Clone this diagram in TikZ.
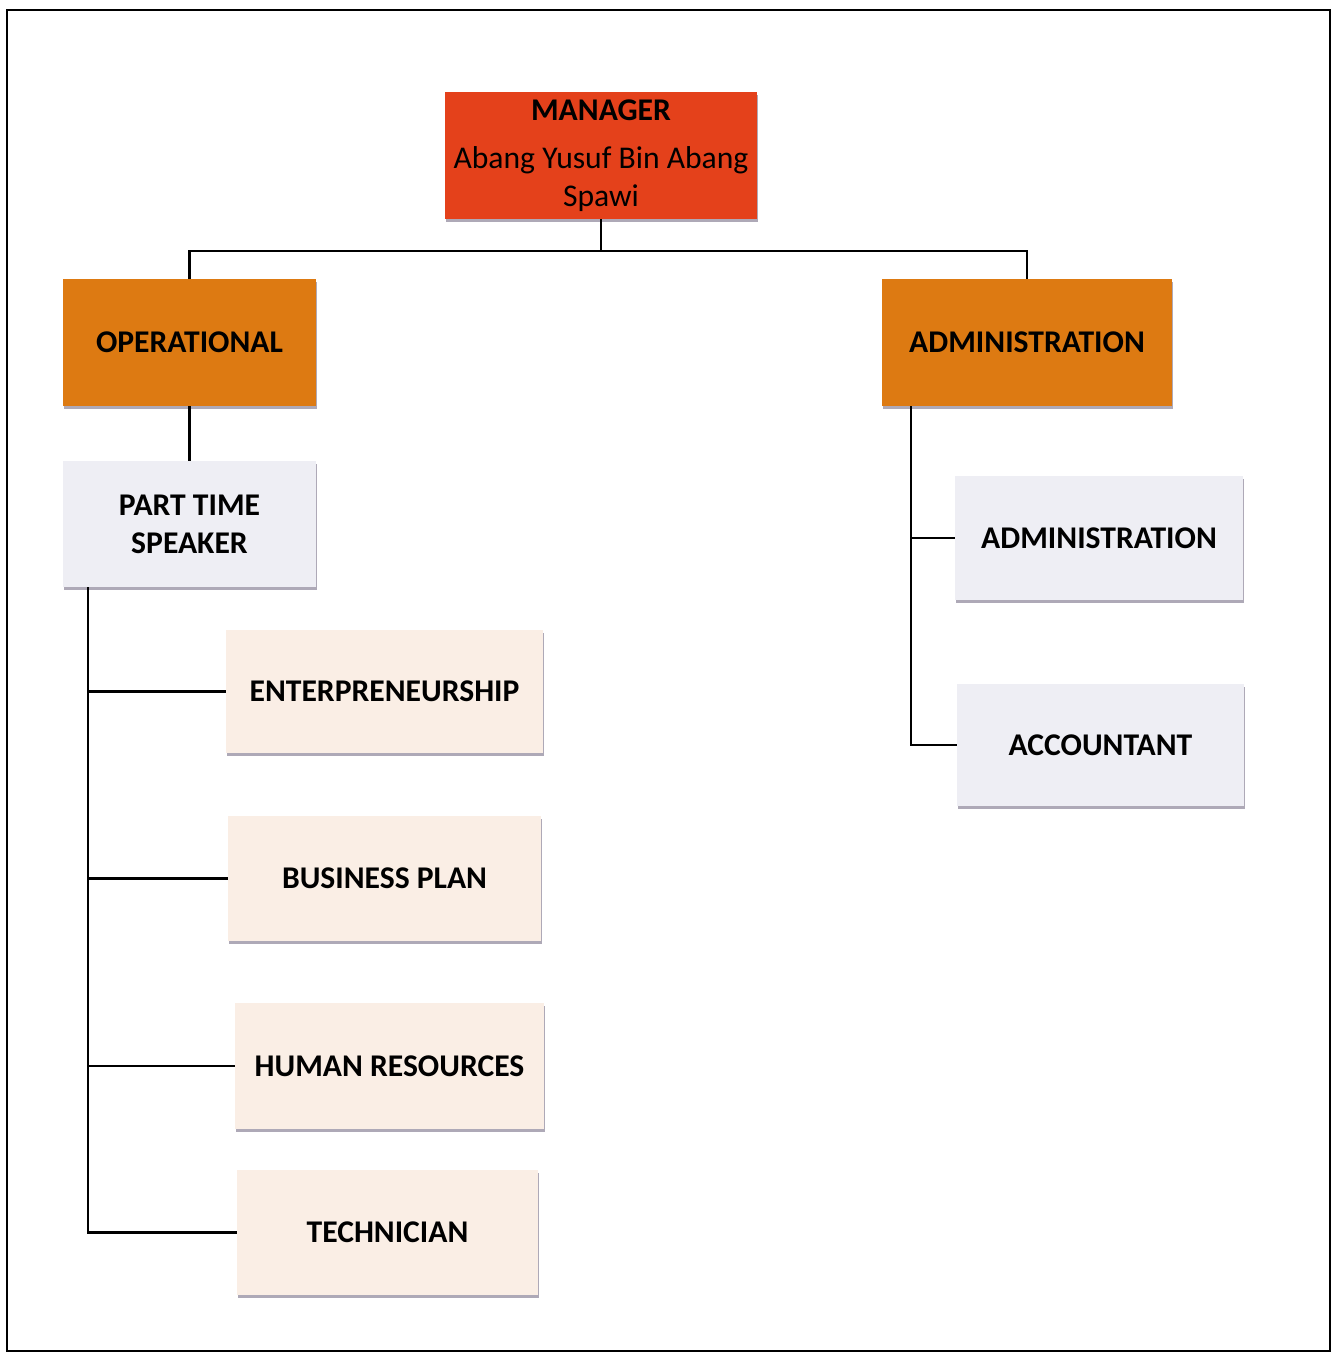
\documentclass[tikz,border=0pt]{standalone}
\usepackage{fontspec}
\setmainfont{Carlito}
\usetikzlibrary{shadows}
\definecolor{managerred}{HTML}{E4411B}
\definecolor{unitorange}{HTML}{DD7A12}
\definecolor{lavenderbox}{HTML}{EEEEF4}
\definecolor{peachbox}{HTML}{FAEEE5}
\definecolor{shadowgray}{HTML}{8C8499}

\begin{document}
\begin{tikzpicture}[x=0.02cm, y=-0.02cm,
	unitbox/.style={rectangle, inner sep=0pt, align=center, font=\bfseries\fontsize{18}{21.5}\selectfont,
		drop shadow={shadow xshift=0.4pt, shadow yshift=-1.6pt, fill=shadowgray, opacity=0.7}},
	link/.style={line width=1.4pt, draw=black}]
			%%%%% START %%%%%
			
			\useasboundingbox (0, 0) rectangle (1340, 1353);
			\draw[line width=1.4pt] (7, 10) rectangle (1330, 1351);
			
			\node[unitbox, fill=managerred, minimum width=6.24cm, minimum height=2.54cm] (manager) at (601, 155.5)
				{MANAGER\\[6pt]\mdseries Abang Yusuf Bin Abang\\\mdseries Spawi};
			
			\node[unitbox, fill=unitorange, minimum width=5.06cm, minimum height=2.54cm] (operational) at (189.5, 342.5) {OPERATIONAL};
			\node[unitbox, fill=unitorange, minimum width=5.8cm, minimum height=2.54cm] (administration) at (1027, 342.5) {ADMINISTRATION};
			
			\node[unitbox, fill=lavenderbox, minimum width=5.06cm, minimum height=2.52cm] (speaker) at (189.5, 524) {PART TIME\\SPEAKER};
			
			\node[unitbox, fill=peachbox, minimum width=6.34cm, minimum height=2.46cm] (enterprise) at (384.5, 691.5) {ENTERPRENEURSHIP};
			\node[unitbox, fill=peachbox, minimum width=6.26cm, minimum height=2.5cm] (businessplan) at (384.5, 878.5) {BUSINESS PLAN};
			\node[unitbox, fill=peachbox, minimum width=6.18cm, minimum height=2.52cm] (humanres) at (389.5, 1066) {HUMAN RESOURCES};
			\node[unitbox, fill=peachbox, minimum width=6.02cm, minimum height=2.5cm] (technician) at (387.5, 1232.5) {TECHNICIAN};
			
			\node[unitbox, fill=lavenderbox, minimum width=5.76cm, minimum height=2.48cm] (adminsub) at (1099, 538) {ADMINISTRATION};
			\node[unitbox, fill=lavenderbox, minimum width=5.74cm, minimum height=2.44cm] (accountant) at (1100.5, 745) {ACCOUNTANT};
			
			% top level
			\coordinate (topbus) at (601, 251);
			\draw[link] (manager.south) -- (topbus);
			\draw[link] (operational.north) |- (topbus) -| (administration.north);
			\draw[link] (operational.south) -- (speaker.north);
			
			% left branch
			\coordinate (lefttrunk) at (88, 587);
			\draw[link] (lefttrunk) |- (technician.west);
			\foreach \unit in {enterprise, businessplan, humanres}
				\draw[link] (lefttrunk |- \unit.west) -- (\unit.west);
			
			% right branch
			\coordinate (righttrunk) at (911, 406);
			\draw[link] (righttrunk) |- (accountant.west);
			\draw[link] (righttrunk |- adminsub.west) -- (adminsub.west);
			
			%%%%% END %%%%%
		\end{tikzpicture}
\end{document}
